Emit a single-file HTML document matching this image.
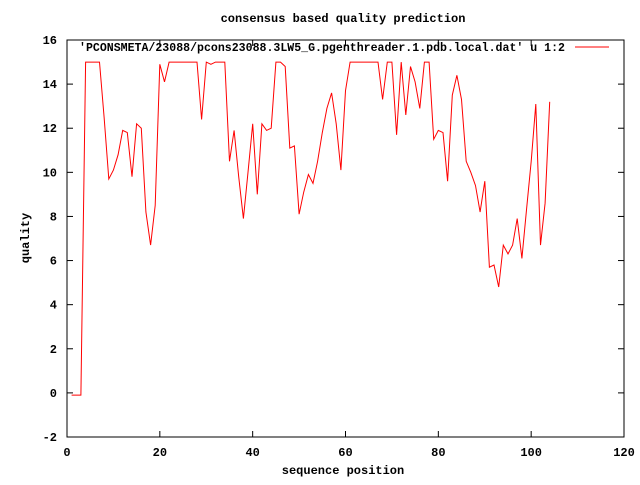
<!DOCTYPE html>
<html><head><meta charset="utf-8"><style>
body{margin:0;background:#fff}
svg text{font-family:"Liberation Mono",monospace;font-size:12px;font-weight:bold;fill:#000}
</style></head><body>
<svg id="chart" width="640" height="480">
<text x="343" y="22" text-anchor="middle">consensus based quality prediction</text>
<rect x="67" y="40" width="557" height="397" fill="none" stroke="#000" stroke-width="1"/>
<g id="axes"></g>
<text x="343" y="474" text-anchor="middle">sequence position</text>
<text x="29" y="238" text-anchor="middle" transform="rotate(-90 29 238)">quality</text>
<g>
<text x="79" y="51" textLength="486" lengthAdjust="spacingAndGlyphs">'PCONSMETA/23088/pcons23088.3LW5_G.pgenthreader.1.pdb.local.dat' u 1:2</text>
<line x1="575" y1="47" x2="609" y2="47" stroke="#f00" stroke-width="1"/>
</g>
<path id="series" fill="none" stroke="#f00" stroke-width="1"/>
</svg>
<script>
const xTicks=[0,20,40,60,80,100,120];
const yTicks=[-2,0,2,4,6,8,10,12,14,16];
const quality=[-0.1,-0.1,-0.1,15,15,15,15,12.5,9.7,10.1,10.8,11.9,11.8,9.8,12.2,12,8.2,6.7,8.5,14.9,14.1,15,15,15,15,15,15,15,12.4,15,14.9,15,15,15,10.5,11.9,9.8,7.9,10,12.2,9,12.2,11.9,12,15,15,14.8,11.1,11.2,8.1,9.1,9.9,9.5,10.5,11.8,12.9,13.6,12.2,10.1,13.7,15,15,15,15,15,15,15,13.3,15,15,11.7,15,12.6,14.8,14.1,12.9,15,15,11.5,11.9,11.8,9.6,13.5,14.4,13.3,10.5,10,9.4,8.2,9.6,5.7,5.8,4.8,6.7,6.3,6.7,7.9,6.1,8.3,10.5,13.1,6.7,8.6,13.2];
const X0=67,X1=624,Y0=437,Y1=40;
const xs=v=>X0+(v-0)/(120-0)*(X1-X0);
const ys=v=>Y0-(v+2)/(16+2)*(Y0-Y1);
const ns="http://www.w3.org/2000/svg";
const g=document.getElementById('axes');
function mk(t,a){const e=document.createElementNS(ns,t);for(const k in a)e.setAttribute(k,a[k]);g.appendChild(e);return e;}
xTicks.forEach(v=>{
  const x=xs(v);
  const t1=mk('line',{x1:x,y1:Y0,x2:x,y2:Y0-6,stroke:'#000'});
  
  
  const t2=mk('line',{x1:x,y1:Y1,x2:x,y2:Y1+6,stroke:'#000'});
  
  
  const l=mk('text',{x:x,y:456,'text-anchor':'middle'});l.textContent=v;
  
  
});
yTicks.forEach(v=>{
  const y=ys(v);
  const t1=mk('line',{x1:X0,y1:y,x2:X0+6,y2:y,stroke:'#000'});
  
  
  const t2=mk('line',{x1:X1,y1:y,x2:X1-6,y2:y,stroke:'#000'});
  
  
  const l=mk('text',{x:57,y:y+4,'text-anchor':'end'});l.textContent=v;
  
  
});
document.getElementById('series').setAttribute('d',quality.map((v,i)=>(i?'L':'M')+xs(i+1).toFixed(1)+','+ys(v).toFixed(1)).join(''));
</script>
</body></html>
